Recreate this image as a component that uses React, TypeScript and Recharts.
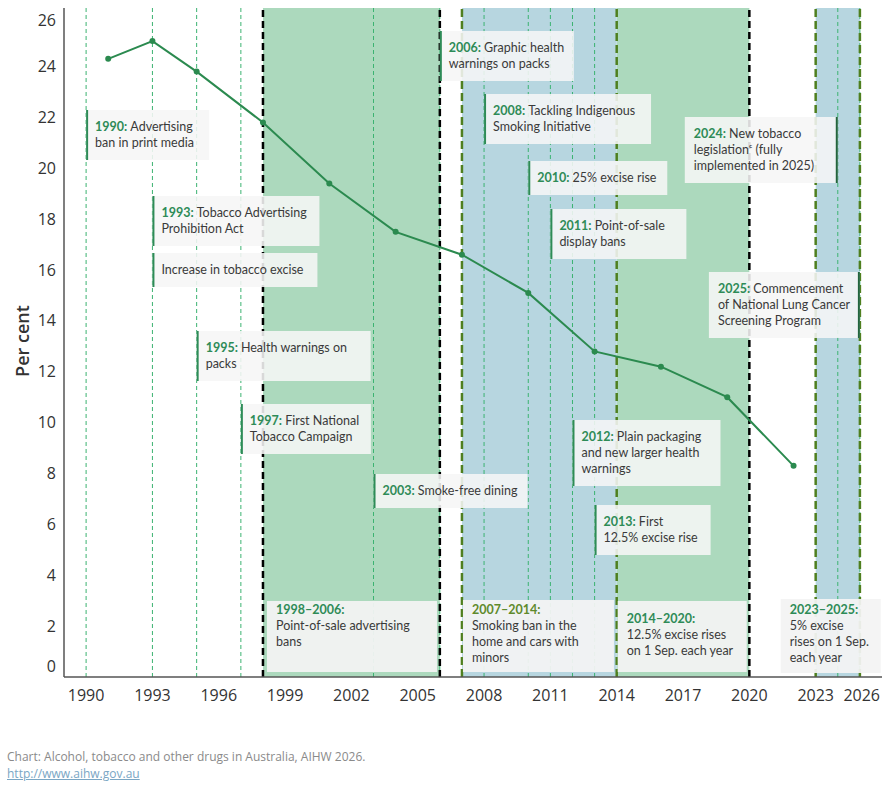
import { ComposedChart, Line, XAxis, YAxis, ReferenceArea, ReferenceLine } from 'recharts'

// daily smoking, people aged 14 and over (per cent)
const surveyYears = [1991, 1993, 1995, 1998, 2001, 2004, 2007, 2010, 2013, 2016, 2019, 2022]
const dailySmoking = [24.3, 25.0, 23.8, 21.8, 19.4, 17.5, 16.6, 15.1, 12.8, 12.2, 11.0, 8.3]

const xTicks = [1990, 1993, 1996, 1999, 2002, 2005, 2008, 2011, 2014, 2017, 2020, 2023, 2026]
const yTicks = [0, 2, 4, 6, 8, 10, 12, 14, 16, 18, 20, 22, 24, 26]

const eventYears = [1990, 1993, 1995, 1997, 2003, 2006, 2008, 2010, 2011, 2012, 2013, 2024, 2025]
const periodBreaks = [1998, 2006, 2020]
const exciseBreaks = [2007, 2014, 2023, 2025]
const greenPeriods = [
  [1998, 2006],
  [2014, 2020],
]
const bluePeriods = [
  [2007, 2014],
  [2023, 2025],
]

const events = [
  { year: 1990, head: '1990:', lines: ['Advertising', 'ban in print media'] },
  { year: 1993, head: '1993:', lines: ['Tobacco Advertising', 'Prohibition Act'] },
  { year: 1993, head: '', lines: ['Increase in tobacco excise'] },
  { year: 1995, head: '1995:', lines: ['Health warnings on', 'packs'] },
  { year: 1997, head: '1997:', lines: ['First National', 'Tobacco Campaign'] },
  { year: 2003, head: '2003:', lines: ['Smoke-free dining'] },
  { year: 2006, head: '2006:', lines: ['Graphic health', 'warnings on packs'] },
  { year: 2008, head: '2008:', lines: ['Tackling Indigenous', 'Smoking Initiative'] },
  { year: 2010, head: '2010:', lines: ['25% excise rise'] },
  { year: 2011, head: '2011:', lines: ['Point-of-sale', 'display bans'] },
  { year: 2012, head: '2012:', lines: ['Plain packaging', 'and new larger health', 'warnings'] },
  { year: 2013, head: '2013:', lines: ['First', '12.5% excise rise'] },
  { year: 2024, head: '2024:', lines: ['New tobacco', 'legislation\u1D9C (fully', 'implemented in 2025)'] },
  { year: 2025, head: '2025:', lines: ['Commencement', 'of National Lung Cancer', 'Screening Program'] },
]

const periods = [
  { from: 1998, head: '1998\u20132006:', lines: ['Point-of-sale advertising', 'bans'] },
  { from: 2007, head: '2007\u20132014:', lines: ['Smoking ban in the', 'home and cars with', 'minors'] },
  { from: 2014, head: '2014\u20132020:', lines: ['12.5% excise rises', 'on 1 Sep. each year'] },
  { from: 2023, head: '2023\u20132025:', lines: ['5% excise', 'rises on 1 Sep.', 'each year'] },
]

// box placement: top offset from plot top, width, which side of the marker the box sits
const eventBoxes = [
  { top: 102, width: 123, side: 'left' },
  { top: 188, width: 167, side: 'left' },
  { top: 245, width: 165, side: 'left' },
  { top: 323, width: 174, side: 'left' },
  { top: 396, width: 130, side: 'left' },
  { top: 466, width: 154, side: 'left' },
  { top: 23, width: 134, side: 'left' },
  { top: 86, width: 167, side: 'left' },
  { top: 153, width: 139, side: 'left' },
  { top: 201, width: 136, side: 'left' },
  { top: 412, width: 148, side: 'left' },
  { top: 497, width: 116, side: 'left' },
  { top: 109, width: 153, side: 'right' },
  { top: 264, width: 151, side: 'right' },
]

const periodBoxes = [
  { dx: 4, top: 593, width: 170, height: 71, pad: 13, headColor: '#2e8b57' },
  { dx: 1, top: 592, width: 151, height: 72, pad: 14, headColor: '#5f8a2c' },
  { dx: 1, top: 593, width: 129, height: 71, pad: 22, headColor: '#2e8b57' },
  { dx: -35, top: 591, width: 100, height: 74, pad: 15, headColor: '#2e8b57' },
]

const chartData = surveyYears.map((year, i) => ({ year, value: dailySmoking[i] }))

const FONT = 'Lato, "Open Sans", sans-serif'
const AXIS_FONT = '"Open Sans", sans-serif'
const TEXT = '#3a3a3a'
const GREEN = '#2e8b57'

const EventBox = ({ vb, ev, box }: any) => {
  if (!vb) return null
  const h = ev.lines.length * 16 + 18
  const left = box.side === 'left' ? vb.x : vb.x - box.width
  const barX = box.side === 'left' ? vb.x : vb.x - 2
  const top = vb.y + box.top
  return (
    <g>
      <rect x={left} y={top} width={box.width} height={h} fill="#f6f6f6" fillOpacity={0.88} />
      <rect x={barX} y={top} width={2} height={h} fill={box.side === 'left' ? GREEN : '#23653e'} />
      <text x={left + 9} y={top + 21} fontFamily={FONT} fontSize={12.5} fill={TEXT}>
        {ev.lines.map((ln: string, i: number) => (
          <tspan key={i} x={left + 9} dy={i === 0 ? 0 : 16}>
            {i === 0 && ev.head ? (
              <tspan fill={GREEN} fontWeight={700}>
                {ev.head + ' '}
              </tspan>
            ) : null}
            {ln}
          </tspan>
        ))}
      </text>
    </g>
  )
}

const PeriodBox = ({ vb, p, box }: any) => {
  if (!vb) return null
  const left = vb.x + box.dx
  const top = vb.y + box.top
  return (
    <g>
      <rect x={left} y={top} width={box.width} height={box.height} fill="#f3f3f3" fillOpacity={0.94} />
      <text x={left + 9} y={top + box.pad} fontFamily={FONT} fontSize={12.5} fill={TEXT}>
        <tspan x={left + 9} fill={box.headColor} fontWeight={700}>
          {p.head}
        </tspan>
        {p.lines.map((ln: string, i: number) => (
          <tspan key={i} x={left + 9} dy={16}>
            {ln}
          </tspan>
        ))}
      </text>
    </g>
  )
}

const YTick = ({ x, y, payload }: any) => {
  const v = payload.value
  const shift = v === 0 ? -11 : v === 26 ? 5 : 0
  return (
    <text x={x} y={y + shift} dy="0.35em" textAnchor="end" fontFamily={AXIS_FONT} fontSize={16} fill="#333">
      {v}
    </text>
  )
}

const XTick = ({ x, y, payload }: any) => {
  const last = payload.value === 2026
  return (
    <text
      x={last ? x - 2 : x}
      y={y + 16}
      textAnchor={last ? 'end' : 'middle'}
      fontFamily={AXIS_FONT}
      fontSize={16}
      fill="#333"
    >
      {payload.value}
    </text>
  )
}

export default function App() {
  return (
    <div style={{ position: 'absolute', left: 0, top: 0, width: 890, height: 800, background: '#fff' }}>
      <ComposedChart width={890} height={720} data={chartData} margin={{ top: 8, right: 8, bottom: 0, left: 0 }}>
        {greenPeriods.map(([a, b]) => (
          <ReferenceArea key={`g${a}`} x1={a} x2={b} fill="#acd9bd" fillOpacity={1} stroke="none" />
        ))}
        {bluePeriods.map(([a, b]) => (
          <ReferenceArea key={`b${a}`} x1={a} x2={b} fill="#b7d6e0" fillOpacity={1} stroke="none" />
        ))}
        {eventYears.map((yr) => (
          <ReferenceLine key={`e${yr}`} x={yr} stroke="#3cb371" strokeWidth={1} strokeDasharray="4 3" />
        ))}
        {periodBreaks.map((yr) => (
          <ReferenceLine key={`p${yr}`} x={yr} stroke="#000" strokeWidth={2.5} strokeDasharray="7 4" />
        ))}
        {exciseBreaks.map((yr) => (
          <ReferenceLine key={`x${yr}`} x={yr} stroke="#4f7f1f" strokeWidth={2.5} strokeDasharray="8 4" />
        ))}
        <XAxis
          dataKey="year"
          type="number"
          domain={[1989, 2026]}
          ticks={xTicks}
          interval={0}
          tickLine={false}
          axisLine={{ stroke: '#555', strokeWidth: 1.5 }}
          tick={<XTick />}
          height={43}
          allowDataOverflow
        />
        <YAxis
          type="number"
          domain={[0, 26.3]}
          ticks={yTicks}
          interval={0}
          tickLine={false}
          axisLine={{ stroke: '#555', strokeWidth: 1.5 }}
          tick={<YTick />}
          width={64}
          allowDataOverflow
        />
        <Line
          dataKey="value"
          stroke="#2b8a4f"
          strokeWidth={2}
          dot={{ r: 3, fill: '#2b8a4f', stroke: '#2b8a4f', strokeWidth: 0 }}
          isAnimationActive={false}
        />
        {events.map((ev, i) => (
          <ReferenceLine
            key={`box${i}`}
            x={ev.year}
            stroke="none"
            label={(props: any) => <EventBox vb={props.viewBox} ev={ev} box={eventBoxes[i]} />}
          />
        ))}
        {periods.map((p, i) => (
          <ReferenceLine
            key={`pbox${i}`}
            x={p.from}
            stroke="none"
            label={(props: any) => <PeriodBox vb={props.viewBox} p={p} box={periodBoxes[i]} />}
          />
        ))}
      </ComposedChart>
      <div
        style={{
          position: 'absolute',
          left: 22,
          top: 341,
          transform: 'translate(-50%, -50%) rotate(-90deg)',
          whiteSpace: 'nowrap',
          fontFamily: AXIS_FONT,
          fontSize: 18,
          fontWeight: 600,
          color: '#333',
        }}
      >
        Per cent
      </div>
      <div
        style={{
          position: 'absolute',
          left: 7,
          top: 748,
          fontFamily: AXIS_FONT,
          fontSize: 12,
          lineHeight: '17px',
          color: '#8a8a8a',
        }}
      >
        <div>Chart: Alcohol, tobacco and other drugs in Australia, AIHW 2026.</div>
        <a href="http://www.aihw.gov.au" style={{ color: '#7aa6c4' }}>
          http://www.aihw.gov.au
        </a>
      </div>
    </div>
  )
}
